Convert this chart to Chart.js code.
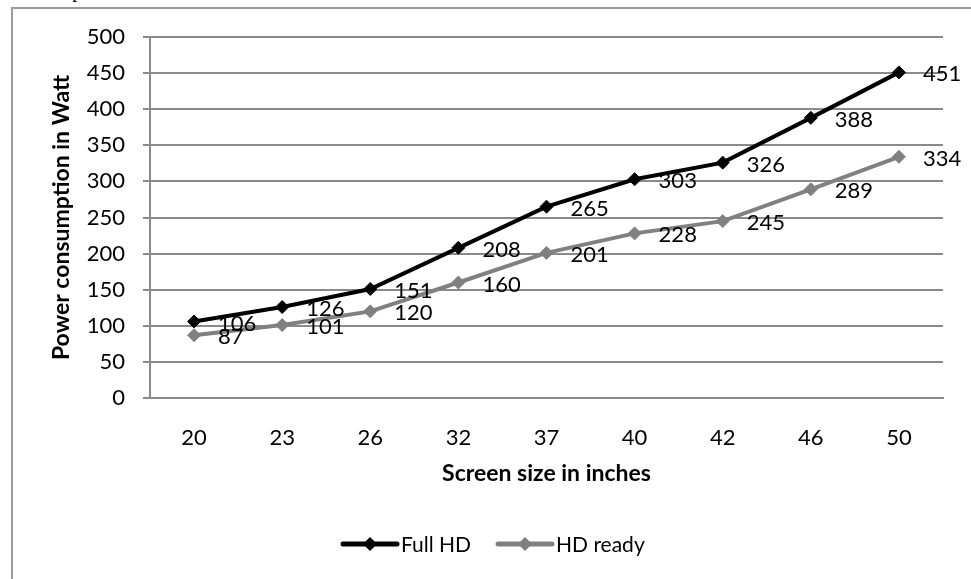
<!DOCTYPE html>
<html>
<head>
<meta charset="utf-8">
<script src="https://cdn.jsdelivr.net/npm/chart.js@4.4.1/dist/chart.umd.min.js"></script>
<style>
  html, body { margin: 0; padding: 0; background: #fff; overflow: hidden; }
  #wrap { position: relative; width: 971px; height: 579px; overflow: hidden; background: #fff; }
  #caption { position: absolute; left: 10px; top: -20px; font: 20px "Liberation Serif", serif; line-height: 20px; white-space: nowrap; color: #000; }
  #frame { position: absolute; left: 11px; top: 7px; width: 1100px; height: 800px; border-left: 2px solid #9b9b9b; border-top: 2px solid #9b9b9b; }
  #c { position: absolute; left: 0; top: 0; }
</style>
</head>
<body>
<div id="wrap">
  <div id="caption">consumption in the On mode are used.</div>
  <div id="frame"></div>
  <canvas id="c" width="971" height="579"></canvas>
</div>
<script>
// Screen sizes (inches) and power draw (W) per panel type
const screenSizes = ['20', '23', '26', '32', '37', '40', '42', '46', '50'];
const fullHD  = [106, 126, 151, 208, 265, 303, 326, 388, 451];
const hdReady = [87, 101, 120, 160, 201, 228, 245, 289, 334];
const seriesNames = ['Full HD', 'HD ready'];
const seriesColors = ['#000000', '#808080'];
const yMin = 0, yMax = 500, yStep = 50;

const FONT = 'Lato, "Open Sans", sans-serif';
const GRID = '#8a8a8a';

// Value labels to the right of every point
const valueLabels = {
  id: 'valueLabels',
  afterDatasetsDraw(chart) {
    const ctx = chart.ctx;
    ctx.save();
    ctx.font = '22px ' + FONT;
    ctx.fillStyle = '#000';
    ctx.textAlign = 'left';
    ctx.textBaseline = 'middle';
    chart.data.datasets.forEach((ds, i) => {
      const meta = chart.getDatasetMeta(i);
      meta.data.forEach((pt, j) => {
        ctx.fillText(String(ds.data[j]), pt.x + 24, pt.y + 2);
      });
    });
    ctx.restore();
  }
};

// Legend below the axis title: line segment with a diamond, then the name
const lineLegend = {
  id: 'lineLegend',
  afterDraw(chart) {
    const ctx = chart.ctx;
    const cy = 544;
    const items = [
      { x0: 343, text: seriesNames[0], color: seriesColors[0] },
      { x0: 498, text: seriesNames[1], color: seriesColors[1] }
    ];
    ctx.save();
    items.forEach(it => {
      ctx.strokeStyle = it.color;
      ctx.lineWidth = 5;
      ctx.lineCap = 'round';
      ctx.beginPath();
      ctx.moveTo(it.x0, cy);
      ctx.lineTo(it.x0 + 54, cy);
      ctx.stroke();
      const mx = it.x0 + 27;
      ctx.fillStyle = it.color;
      ctx.beginPath();
      ctx.moveTo(mx - 7, cy);
      ctx.lineTo(mx, cy - 7);
      ctx.lineTo(mx + 7, cy);
      ctx.lineTo(mx, cy + 7);
      ctx.closePath();
      ctx.fill();
      ctx.fillStyle = '#000';
      ctx.font = '21px ' + FONT;
      ctx.textAlign = 'left';
      ctx.textBaseline = 'middle';
      ctx.fillText(it.text, it.x0 + 58, cy + 1);
    });
    ctx.restore();
  }
};

new Chart(document.getElementById('c'), {
  type: 'line',
  data: {
    labels: screenSizes,
    datasets: [
      {
        label: seriesNames[0], data: fullHD,
        borderColor: seriesColors[0], backgroundColor: seriesColors[0],
        borderWidth: 4, pointStyle: 'rectRot', pointRadius: 6.5,
        pointBorderWidth: 1, pointBackgroundColor: seriesColors[0], pointBorderColor: seriesColors[0],
        tension: 0, order: 1
      },
      {
        label: seriesNames[1], data: hdReady,
        borderColor: seriesColors[1], backgroundColor: seriesColors[1],
        borderWidth: 4, pointStyle: 'rectRot', pointRadius: 6.5,
        pointBorderWidth: 1, pointBackgroundColor: seriesColors[1], pointBorderColor: seriesColors[1],
        tension: 0, order: 0
      }
    ]
  },
  options: {
    responsive: false,
    animation: false,
    devicePixelRatio: 1,
    layout: { padding: { left: 0, right: 28, top: 37, bottom: 0 } },
    plugins: {
      legend: { display: false },
      tooltip: { enabled: false }
    },
    scales: {
      x: {
        type: 'category',
        offset: true,
        grid: { display: false, drawTicks: false },
        border: { display: true, color: GRID, width: 2 },
        ticks: { color: '#000', font: { family: FONT, size: 22 }, padding: 27, maxRotation: 0 },
        title: {
          display: true, text: 'Screen size in inches', color: '#000',
          font: { family: FONT, size: 23, weight: 'bold' },
          padding: { top: 0, bottom: 92 }
        },
        afterFit(scale) { scale.height = 181; }
      },
      y: {
        min: yMin, max: yMax,
        grid: { color: GRID, lineWidth: 2, drawTicks: true, tickLength: 7, tickColor: GRID },
        border: { display: true, color: GRID, width: 2 },
        ticks: { stepSize: yStep, color: '#000', font: { family: FONT, size: 22 }, padding: 18 },
        title: {
          display: true, text: 'Power consumption in Watt', color: '#000',
          font: { family: FONT, size: 23, weight: 'bold' },
          padding: { top: 48, bottom: 0 }
        },
        afterFit(scale) { scale.width = 150; }
      }
    }
  },
  plugins: [valueLabels, lineLegend]
});
</script>
</body>
</html>
